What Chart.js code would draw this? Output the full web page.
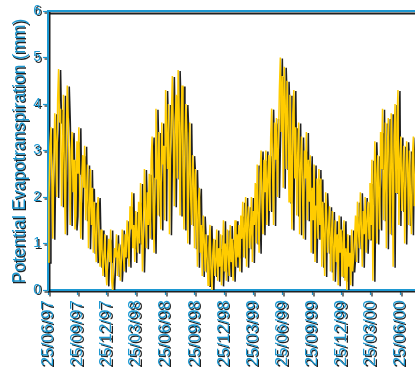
<!DOCTYPE html>
<html>
<head>
<meta charset="utf-8">
<script src="https://cdn.jsdelivr.net/npm/chart.js@4.4.1/dist/chart.umd.min.js"></script>
<style>
  html, body { margin: 0; padding: 0; background: #fff; overflow: hidden; }
  #wrap { width: 415px; height: 371px; overflow: hidden; position: relative; }
  canvas { display: block; }
</style>
</head>
<body>
<div id="wrap"><canvas id="c" width="460" height="371"></canvas></div>
<script>
// Daily potential evapotranspiration, sampled every 3 days from 25/06/97
const startDate = '25/06/97';
const endDate = '25/12/00';
const dayStep = 3;
const pet = [
  0.6, 1.9, 3.1, 3.5, 2.4, 1.1, 2.7, 3.8, 3.2, 2.0,
  4.1, 4.75, 3.6, 3.9, 1.8, 2.9, 4.2, 2.3, 1.2, 3.3,
  4.4, 3.7, 2.6, 1.4,
  3.0, 3.4, 2.1, 2.8, 1.3, 1.6, 3.2, 2.5, 3.5, 1.9,
  1.1, 2.4, 2.9, 2.2, 3.1, 1.5, 2.0, 2.7, 0.9, 1.7,
  2.6, 1.4, 2.2, 0.8, 1.9, 1.2, 0.6, 1.7, 2.0, 1.0,
  0.5, 1.3, 0.9, 0.3, 0.7, 1.2, 0.4, 0.1, 0.8, 1.1,
  0.6, 1.3, 0.2, 0.0, 0.5, 0.9, 0.7, 1.2, 0.3, 0.8,
  1.0, 0.2, 0.6, 1.3, 0.9, 0.4,
  1.2, 0.7, 1.5, 1.1, 0.5, 1.8, 1.3, 2.1, 0.9, 1.4,
  0.6, 1.7, 1.2, 0.8, 1.9, 1.0,
  2.3, 1.5, 0.4, 1.2, 2.6, 1.8, 0.9, 2.1, 1.4, 2.5,
  1.1, 2.8, 3.3, 1.9, 0.8, 2.4, 3.9, 2.9, 1.6, 3.4,
  2.2, 1.3, 3.6, 2.7, 3.1,
  1.5, 4.3, 3.4, 2.6, 4.0, 1.2, 2.9, 3.8, 4.6, 3.3,
  1.8, 3.6, 4.2, 2.4, 4.73, 3.9,
  1.6, 3.5, 4.4, 2.7, 1.3, 3.1, 4.0, 3.4, 1.0, 2.3,
  3.6, 2.0, 1.4, 2.9, 2.5,
  0.9, 2.6, 1.7, 0.5, 1.9, 2.2, 0.8, 1.4, 0.3, 1.6, 1.1,
  0.4, 1.2, 0.7, 0.1, 0.9, 1.4, 0.5, 0.0, 0.8, 1.1,
  0.3, 0.6, 1.3, 0.2, 0.9, 0.5, 1.2, 0.1, 0.7, 1.5,
  0.4, 1.0, 0.2, 1.3, 0.8, 0.3, 1.4, 0.6, 1.1, 0.2,
  0.9, 1.5, 0.5, 1.2, 0.7, 1.4,
  0.4, 1.6, 1.1, 1.9, 0.7, 1.3, 2.0, 0.5, 1.5, 1.8,
  0.9, 1.2, 2.0, 0.6, 1.7, 1.4,
  2.3, 1.0, 2.7, 1.6, 0.8, 2.5, 3.0, 1.9, 1.2, 2.8,
  2.1, 3.0, 1.4, 2.4, 2.9,
  1.7, 3.3, 3.9, 2.5, 1.4, 3.6, 2.8, 3.7, 2.0, 3.1, 4.3,
  5.0, 3.4, 4.6, 2.2, 4.8, 4.1,
  2.6, 4.5, 3.7, 1.9, 4.2, 3.0, 1.3, 3.8, 4.3, 2.4,
  3.5, 1.6, 2.9, 3.6, 1.2, 2.6, 3.3, 2.1, 1.1, 3.0,
  2.4, 3.4, 1.5, 2.8, 1.9,
  2.9, 0.8, 2.2, 1.5, 2.7, 0.6, 1.8, 2.4, 1.1, 2.6,
  1.4, 2.4, 0.5, 1.9, 1.2, 0.3, 2.1, 1.6, 0.8, 1.3,
  1.8, 0.4, 1.1, 1.7, 0.2, 0.9, 1.5, 0.6, 1.2, 0.1,
  1.6, 0.8, 1.3, 0.3, 1.0, 1.5,
  0.2, 0.9, 0.0, 1.2, 0.5, 0.8, 0.1, 1.3, 0.4, 0.7,
  1.1, 1.6, 0.6, 1.9, 1.3, 0.9, 2.1, 1.4, 0.5, 1.7,
  1.2, 2.0, 0.8, 1.5, 1.9, 1.1,
  2.3, 1.4, 2.8, 0.2, 1.9, 3.2, 2.5, 1.0, 2.9, 2.1,
  1.3, 3.4, 2.6, 3.9, 1.5, 2.2, 3.6, 0.9, 3.0, 3.7, 2.4,
  1.2, 3.8, 2.9, 0.5, 3.3, 4.0, 2.1, 3.6, 4.3, 1.4,
  2.8, 3.3, 1.7, 2.5, 3.1, 1.0, 2.2, 3.2, 2.7, 1.4,
  3.0, 2.0, 1.2, 2.9, 3.3, 1.8, 2.4, 3.1, 1.5, 2.6,
  3.2, 1.1, 2.8, 2.2, 3.0
];

// Quarterly date ticks along the time axis
const tickLabels = [
  '25/06/97', '25/09/97', '25/12/97', '25/03/98', '25/06/98', '25/09/98',
  '25/12/98', '25/03/99', '25/06/99', '25/09/99', '25/12/99', '25/03/00',
  '25/06/00', '25/09/00'
];
const yTicks = [0, 1, 2, 3, 4, 5, 6];
const yTitle = 'Potential Evapotranspiration (mm)';

const BLUE = '#1c98d2';
const GOLD = '#ffcc00';
const FONT = 'Liberation Sans, Arial, sans-serif';

function toUTC(s) {
  const [d, m, y] = s.split('/').map(Number);
  return Date.UTC(y < 50 ? 2000 + y : 1900 + y, m - 1, d);
}
const t0 = toUTC(startDate);
const dayOf = s => Math.round((toUTC(s) - t0) / 86400000);
const tickDays = tickLabels.map(dayOf);

const points = pet.map((v, i) => ({ x: i * dayStep, y: v }));

function setShadow(c, dx, dy) {
  c.shadowColor = 'rgba(20,20,20,0.95)';
  c.shadowOffsetX = dx;
  c.shadowOffsetY = dy;
  c.shadowBlur = 0;
}

// Hard offset shadow behind axes, text and the series line; top frame line and axis title
const dropShadow = {
  id: 'dropShadow',
  beforeDraw(chart) {
    setShadow(chart.ctx, 1.5, 1.5);
  },
  beforeDatasetsDraw(chart) {
    const c = chart.ctx;
    const a = chart.chartArea;
    c.save();
    setShadow(c, 2, 2.5);
    c.strokeStyle = BLUE;
    c.lineWidth = 2;
    c.beginPath();
    c.moveTo(a.left, a.top);
    c.lineTo(a.right, a.top);
    c.lineTo(a.right, a.bottom);
    c.stroke();
    c.restore();

    c.save();
    setShadow(c, 1.5, 1.5);
    c.translate(20, (a.top + a.bottom) / 2 + 0.5);
    c.rotate(-Math.PI / 2);
    c.fillStyle = BLUE;
    c.font = '17.5px ' + FONT;
    c.textAlign = 'center';
    c.textBaseline = 'middle';
    c.fillText(yTitle, 0, 0);
    c.restore();

    setShadow(c, 2, 1);
  },
  afterDraw(chart) {
    setShadow(chart.ctx, 0, 0);
    chart.ctx.shadowColor = 'rgba(0,0,0,0)';
  }
};

new Chart(document.getElementById('c'), {
  type: 'line',
  data: {
    datasets: [{
      data: points,
      borderColor: GOLD,
      borderWidth: 1.5,
      pointRadius: 0,
      tension: 0,
      fill: false
    }]
  },
  options: {
    responsive: false,
    animation: false,
    devicePixelRatio: 1,
    layout: { padding: { top: 11, right: 1, left: 0, bottom: 0 } },
    plugins: { legend: { display: false }, tooltip: { enabled: false } },
    scales: {
      x: {
        type: 'linear',
        min: 0,
        max: dayOf(endDate),
        afterBuildTicks(scale) { scale.ticks = tickDays.map(v => ({ value: v })); },
        afterFit(scale) { scale.height = 81; },
        border: { display: true, color: BLUE, width: 2 },
        grid: { drawOnChartArea: false, color: BLUE, tickLength: 5, tickWidth: 1.2 },
        ticks: {
          autoSkip: false,
          minRotation: 90,
          maxRotation: 90,
          padding: 5,
          color: BLUE,
          font: { family: FONT, size: 17 },
          callback: (v, i) => tickLabels[i]
        }
      },
      y: {
        min: 0,
        max: 6,
        afterBuildTicks(scale) { scale.ticks = yTicks.map(v => ({ value: v })); },
        afterFit(scale) { scale.width = 48; },
        border: { display: true, color: BLUE, width: 2 },
        grid: { drawOnChartArea: false, color: BLUE, tickLength: 5, tickWidth: 1.2 },
        ticks: {
          padding: 2,
          color: BLUE,
          font: { family: FONT, size: 14 },
          callback: v => String(v)
        }
      }
    }
  },
  plugins: [dropShadow]
});
</script>
</body>
</html>
